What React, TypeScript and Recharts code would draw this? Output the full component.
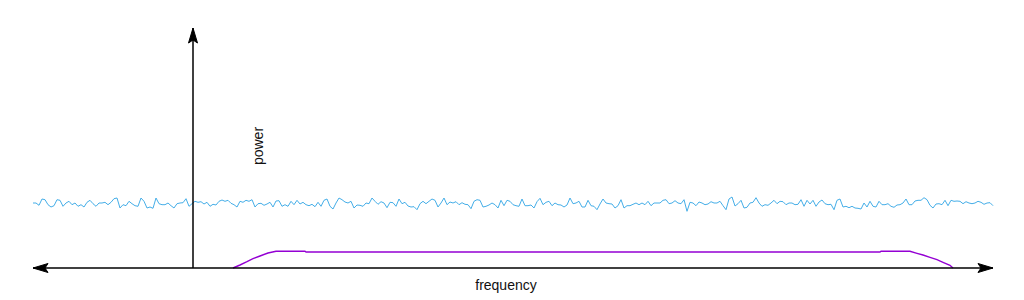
import React from "react";
import { LineChart, Line, XAxis, YAxis, ReferenceLine, ReferenceDot } from "recharts";

// noise floor, every 3 frequency units starting at -160
const NOISE_START = -160;
const NOISE_STEP = 3;
const noisePower = [
  65, 65, 62.7, 69, 68.3, 63.3, 61, 62.3, 68.3, 67.7, 61.7, 65, 66.7, 63.3, 65, 61.7,
  63.3, 61, 65.7, 67.7, 64.3, 61.7, 65, 65, 65.7, 63.3, 65.7, 69.3, 70, 60, 63.3, 62.3,
  66.7, 64.3, 62.3, 61.7, 70, 66.7, 60, 61, 59.7, 70, 64.3, 63.3, 63.3, 65,
  62.3, 60, 64.3, 65, 65.3, 69.3, 61.7, 64.3, 66.7, 65.7, 66.3, 64, 65.7, 61.7, 63.7,
  63, 66.7, 68, 66.7, 67.7, 64.7, 63.3, 61, 66.7, 65.7, 67.7, 66.7, 68.3, 61, 64.3,
  64.7, 62.7, 64, 65.7, 61, 67, 67.3, 61.7, 63.3, 61.7, 66.7, 63.3, 67.7, 64, 65.7,
  63.3, 62.3, 63.7, 61.3, 65.7, 61.7, 67.7, 69, 61.7, 59, 65, 70, 68.3, 66, 65, 66.7,
  60, 63, 62.7, 61.7, 65, 64.3, 70, 66.7, 63.7, 66.3, 65, 60.3, 65.7, 65.3, 61.7, 69,
  64.3, 65.7, 62, 61, 61.3, 58.3, 64.3, 66.7, 64.3, 66.7, 69, 67.7, 61, 65, 70,
  63.3, 66, 65, 66.3, 63.3, 65.3, 63.7, 63.3, 59.3, 66.7, 68.3, 67.7, 61, 61.7, 63,
  65, 63.3, 60, 67.7, 62.3, 67.7, 66.7, 63.3, 62.3, 61.7, 69, 62.3, 62.3, 63, 60, 66.3,
  69.7, 63.3, 65.7, 66.7, 62.3, 65, 63.3, 63, 61, 63, 70, 64.3, 65, 66.7, 61,
  61, 67.7, 62.3, 61.7, 58.3, 64, 69, 65, 64.3, 64, 60, 62.3, 68.3, 60, 62.3, 62.3,
  63.7, 65, 63.3, 65, 63.3, 66.7, 62.3, 65, 65, 65, 67.7, 68.3, 64.3, 65, 67.3, 65,
  64.3, 68.3, 56.7, 65.7, 65, 62.3, 66, 65, 63.3, 64, 66.3, 65, 65, 66.7,
  62.3, 58.3, 69, 71, 62, 64.3, 67.7, 60, 60.7, 65, 65.7, 70.3, 65, 61.7, 63.3, 62.7,
  65, 67.7, 64.3, 66.7, 66.3, 63.3, 65, 65, 63.3, 63.7, 68.3, 61.7, 67.7, 64, 67.7,
  61.7, 66, 68, 64.3, 63.3, 63.7, 58.3, 67.7, 69, 61, 61.7, 60.3, 61.7, 60, 59.7,
  59, 65, 61, 66.7, 61.7, 61, 66.7, 63.3, 63.3, 64.3, 61.7, 60.7, 63, 63.3, 65, 69,
  63.3, 63.3, 67, 67.7, 67.7, 70.3, 68.3, 62.7, 60, 64, 64.3, 63.3, 67.7, 62.3, 67.7,
  66.7, 67, 66.7, 64.3, 66.3, 65, 64.3, 65, 66.7, 65.7, 63.7, 65, 65.3, 62.3,
];

// signal band: rises, flat top with a small shoulder each side, falls
const bandFreq = [40, 47, 54, 60, 67, 75, 83, 112, 113, 687, 688, 717, 724, 730, 737, 744, 750, 757, 760];
const bandPower = [0, 3, 6.3, 9.3, 12, 15, 16.7, 16.7, 16, 16, 16.7, 16.7, 14.7, 13, 10.7, 8.3, 5.7, 2.7, 0];

const noiseData = noisePower.map((p, i) => ({ f: NOISE_START + i * NOISE_STEP, p }));
const bandData = bandFreq.map((f, i) => ({ f, p: bandPower[i] }));

const AXIS_MIN = -160;
const AXIS_MAX = 800;
const POWER_TOP = 240;

const arrow = (dir: "left" | "right" | "up") => (props: any) => {
  const { cx, cy } = props;
  let d = "";
  if (dir === "left") d = `M${cx},${cy} L${cx + 15},${cy - 4.5} L${cx + 12},${cy} L${cx + 15},${cy + 4.5} Z`;
  if (dir === "right") d = `M${cx},${cy} L${cx - 15},${cy - 4.5} L${cx - 12},${cy} L${cx - 15},${cy + 4.5} Z`;
  if (dir === "up") d = `M${cx},${cy} L${cx - 4.5},${cy + 15} L${cx},${cy + 12} L${cx + 4.5},${cy + 15} Z`;
  return <path d={d} fill="#000" stroke="#000" strokeWidth={1} />;
};

const label = (text: string, rotate: boolean) => (props: any) => {
  const { cx, cy } = props;
  return (
    <text
      x={cx}
      y={cy}
      textAnchor="middle"
      dominantBaseline="central"
      fontFamily="'Liberation Sans', Arial, sans-serif"
      fontSize={14}
      fill="#111"
      transform={rotate ? `rotate(-90 ${cx} ${cy})` : undefined}
    >
      {text}
    </text>
  );
};

export default function App() {
  return (
    <div style={{ position: "absolute", left: 0, top: 0, width: 1024, height: 300, background: "#fff" }}>
      <LineChart width={1024} height={300} margin={{ top: 0, right: 0, bottom: 0, left: 0 }}>
        <XAxis type="number" dataKey="f" domain={[-193, 831]} allowDataOverflow hide />
        <YAxis type="number" dataKey="p" domain={[-32, 268]} allowDataOverflow hide />

        <Line
          data={noiseData}
          dataKey="p"
          type="linear"
          stroke="#45aee8"
          strokeWidth={1}
          dot={false}
          activeDot={false}
          isAnimationActive={false}
        />
        <Line
          data={bandData}
          dataKey="p"
          type="linear"
          stroke="#9400d3"
          strokeWidth={1.4}
          dot={false}
          activeDot={false}
          isAnimationActive={false}
        />

        <ReferenceLine
          segment={[{ x: AXIS_MIN, y: 0 }, { x: AXIS_MAX, y: 0 }]}
          stroke="#000"
          strokeWidth={1.5}
        />
        <ReferenceLine
          segment={[{ x: 0, y: 0 }, { x: 0, y: POWER_TOP }]}
          stroke="#000"
          strokeWidth={1.5}
        />
        <ReferenceDot x={AXIS_MIN} y={0} r={1} shape={arrow("left")} />
        <ReferenceDot x={AXIS_MAX} y={0} r={1} shape={arrow("right")} />
        <ReferenceDot x={0} y={POWER_TOP} r={1} shape={arrow("up")} />

        <ReferenceDot x={65} y={122} r={1} shape={label("power", true)} />
        <ReferenceDot x={313} y={-17} r={1} shape={label("frequency", false)} />
      </LineChart>
    </div>
  );
}
